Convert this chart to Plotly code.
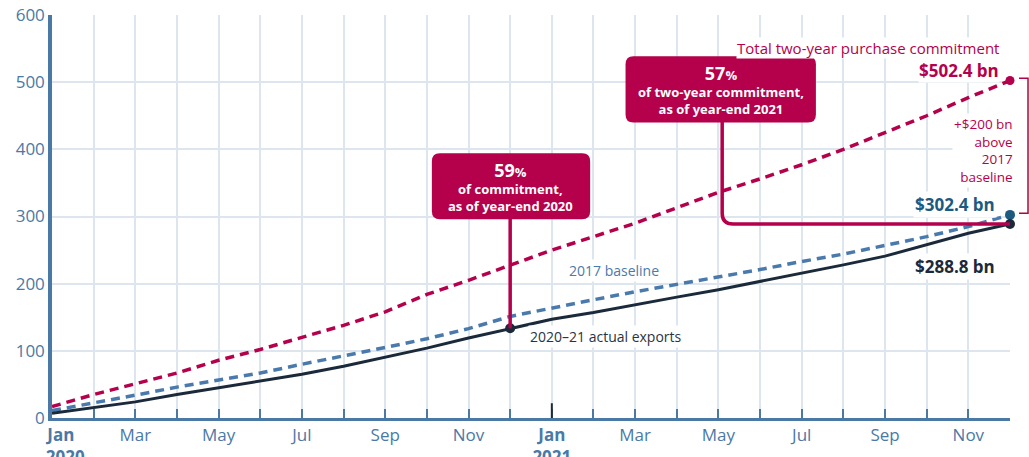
import plotly.graph_objects as go

# months Jan 2020 .. Dec 2021
months = ["Jan 2020", "Feb 2020", "Mar 2020", "Apr 2020", "May 2020", "Jun 2020",
          "Jul 2020", "Aug 2020", "Sep 2020", "Oct 2020", "Nov 2020", "Dec 2020",
          "Jan 2021", "Feb 2021", "Mar 2021", "Apr 2021", "May 2021", "Jun 2021",
          "Jul 2021", "Aug 2021", "Sep 2021", "Oct 2021", "Nov 2021", "Dec 2021"]

# cumulative values, $ bn
commitment = [17, 35, 51, 67, 86, 102, 120, 138, 158, 184, 205, 227.5,
              250, 270, 290, 313, 336, 356, 377, 400, 425, 450, 477, 502.4]
baseline_2017 = [11, 22, 34, 46, 57, 67, 80, 92, 105, 118, 133, 151.2,
                 164, 176, 188, 199, 209, 221, 233, 244, 257, 270, 285, 302.4]
actual = [7, 15, 24, 35, 45, 55, 65, 77, 90, 104, 119, 133.5,
          147, 157, 169, 180, 191, 203, 215, 228, 241, 258, 275, 288.8]

tick_vals = [0, 2, 4, 6, 8, 10, 12, 14, 16, 18, 20, 22]
tick_text = ["&nbsp;&nbsp;&nbsp;&nbsp;<b>Jan</b><br>&nbsp;&nbsp;&nbsp;&nbsp;&nbsp;&nbsp;<b>2020</b>",
             "Mar", "May", "Jul", "Sep", "Nov",
             "<b>Jan</b><br><b>2021</b>", "Mar", "May", "Jul", "Sep", "Nov"]

CRIMSON = "#b5004b"
STEEL = "#4b79a6"
BASE_BLUE = "#4a7aab"
DARK_BLUE = "#1d5a80"
NAVY = "#1b2a3a"
GRID = "#dde6ef"
FONT = "Open Sans"

x = list(range(len(months)))
dec20 = months.index("Dec 2020")
last = len(months) - 1

fig = go.Figure()

fig.add_trace(go.Scatter(x=x, y=commitment, mode="lines",
                         line=dict(color=CRIMSON, width=3.5, dash="9px,6px")))
fig.add_trace(go.Scatter(x=x, y=baseline_2017, mode="lines",
                         line=dict(color=BASE_BLUE, width=3.5, dash="9px,6px")))
fig.add_trace(go.Scatter(x=x, y=actual, mode="lines",
                         line=dict(color=NAVY, width=3)))

# end / year-end dots
fig.add_trace(go.Scatter(x=[x[last]], y=[commitment[last]], mode="markers",
                         marker=dict(color=CRIMSON, size=9), cliponaxis=False))
fig.add_trace(go.Scatter(x=[x[last]], y=[baseline_2017[last]], mode="markers",
                         marker=dict(color=DARK_BLUE, size=10), cliponaxis=False))
fig.add_trace(go.Scatter(x=[x[dec20], x[last]], y=[actual[dec20], actual[last]],
                         mode="markers", marker=dict(color=NAVY, size=10),
                         cliponaxis=False))


def rounded_rect(x0, x1, y0, y1, rx=0.19, ry=12):
    return (f"M {x0+rx},{y1} L {x1-rx},{y1} Q {x1},{y1} {x1},{y1-ry} "
            f"L {x1},{y0+ry} Q {x1},{y0} {x1-rx},{y0} L {x0+rx},{y0} "
            f"Q {x0},{y0} {x0},{y0+ry} L {x0},{y1-ry} Q {x0},{y1} {x0+rx},{y1} Z")


shapes = [
    # Dec 2020 marker line
    dict(type="line", xref="x", yref="paper", x0=dec20, x1=dec20, y0=0, y1=1,
         line=dict(color="#8aaccc", width=1.5), layer="below"),
    # darker Jan 2021 tick
    dict(type="line", xref="x", yref="y", x0=12, x1=12, y0=0, y1=22,
         line=dict(color=NAVY, width=2)),
    # box 1 + stem
    dict(type="line", xref="x", yref="y", x0=dec20, x1=dec20, y0=300, y1=actual[dec20],
         line=dict(color=CRIMSON, width=3.5)),
    dict(type="path", xref="x", yref="y", path=rounded_rect(9.12, 12.92, 296, 394),
         fillcolor=CRIMSON, line=dict(width=0)),
    # box 2 + elbow stem
    dict(type="path", xref="x", yref="y",
         path=(f"M 16.09,445 L 16.09,{actual[last]+16} "
               f"Q 16.09,{actual[last]} 16.35,{actual[last]} L {last},{actual[last]}"),
         line=dict(color=CRIMSON, width=3.5)),
    dict(type="path", xref="x", yref="y", path=rounded_rect(13.77, 18.34, 440, 538.7),
         fillcolor=CRIMSON, line=dict(width=0)),
    # bracket on the right
    dict(type="path", xref="paper", yref="paper",
         path="M 1.0094,0.843 L 1.0188,0.843 L 1.0188,0.508 L 1.0094,0.508",
         line=dict(color=CRIMSON, width=1.5)),
]

box_font = dict(family=FONT, size=13, color="white")
annotations = [
    # box texts
    dict(x=dec20, y=345, xref="x", yref="y", showarrow=False, font=box_font,
         text=("<b><span style='font-size:18px'>59</span>%</b><br>"
               "<b>of commitment,</b><br><b>as of year-end 2020</b>")),
    dict(x=16.06, y=489, xref="x", yref="y", showarrow=False, font=box_font,
         text=("<b><span style='font-size:18px'>57</span>%</b><br>"
               "<b>of two-year commitment,</b><br><b>as of year-end 2021</b>")),
    # top right labels
    dict(x=0.9896, y=0.945, xref="paper", yref="paper", xanchor="right", showarrow=False,
         text="Total two-year purchase commitment", bgcolor="white", borderpad=0,
         font=dict(family=FONT, size=15, color=CRIMSON)),
    dict(x=0.9896, y=0.894, xref="paper", yref="paper", xanchor="right", showarrow=False,
         text="<b>$502.4 bn</b>", bgcolor="white", borderpad=0,
         font=dict(family=FONT, size=17, color=CRIMSON)),
    dict(x=1.0052, y=0.665, xref="paper", yref="paper", xanchor="right", align="right",
         showarrow=False, text="+$200 bn<br>above<br>2017<br>baseline", bgcolor="white",
         font=dict(family=FONT, size=13.5, color=CRIMSON)),
    # end values
    dict(x=0.9864, y=0.531, xref="paper", yref="paper", xanchor="right", showarrow=False,
         text="<b>$302.4 bn</b>", bgcolor="white", borderpad=1,
         font=dict(family=FONT, size=17, color=DARK_BLUE)),
    dict(x=0.9864, y=0.3747, xref="paper", yref="paper", xanchor="right", showarrow=False,
         text="<b>$288.8 bn</b>", bgcolor="white", borderpad=1,
         font=dict(family=FONT, size=17, color=NAVY)),
    # series labels
    dict(x=12.36, y=219, xref="x", yref="y", xanchor="left", showarrow=False,
         text="2017 baseline", bgcolor="white", borderpad=1,
         font=dict(family=FONT, size=14, color=BASE_BLUE)),
    dict(x=11.42, y=122, xref="x", yref="y", xanchor="left", showarrow=False,
         text="2020–21 actual exports", bgcolor="white", borderpad=1,
         font=dict(family=FONT, size=14, color="#2a3440")),
]

fig.update_layout(
    width=1029, height=457,
    margin=dict(l=52, r=19, t=15, b=39),
    plot_bgcolor="white", paper_bgcolor="white",
    showlegend=False,
    shapes=shapes, annotations=annotations,
    font=dict(family=FONT, color=STEEL),
)

fig.update_xaxes(
    range=[0, last], tickmode="array", tickvals=tick_vals, ticktext=tick_text,
    ticks="inside", ticklen=9, tickwidth=2, tickcolor=STEEL,
    tickfont=dict(family=FONT, size=17, color=STEEL),
    showgrid=True, gridcolor=GRID, gridwidth=1.5,
    minor=dict(tickmode="linear", tick0=0, dtick=1, ticks="inside", ticklen=9,
               tickwidth=2, tickcolor=STEEL, showgrid=True, gridcolor=GRID, gridwidth=1.5),
    showline=True, linecolor=STEEL, linewidth=2.5, zeroline=False, automargin=False,
    ticklabeloverflow="allow",
)
fig.update_yaxes(
    range=[0, 600], tickmode="array", tickvals=[0, 100, 200, 300, 400, 500, 600],
    tickfont=dict(family=FONT, size=17, color=STEEL),
    showgrid=True, gridcolor=GRID, gridwidth=1.5,
    showline=True, linecolor=STEEL, linewidth=3.5, zeroline=False, ticks="",
    automargin=False, ticklabeloverflow="allow",
)

# drop the page's default 8px body margin so the figure sits at the top-left corner
fig.write_html("out.html", config={"displayModeBar": False},
               post_script="document.body.style.margin='0';")
